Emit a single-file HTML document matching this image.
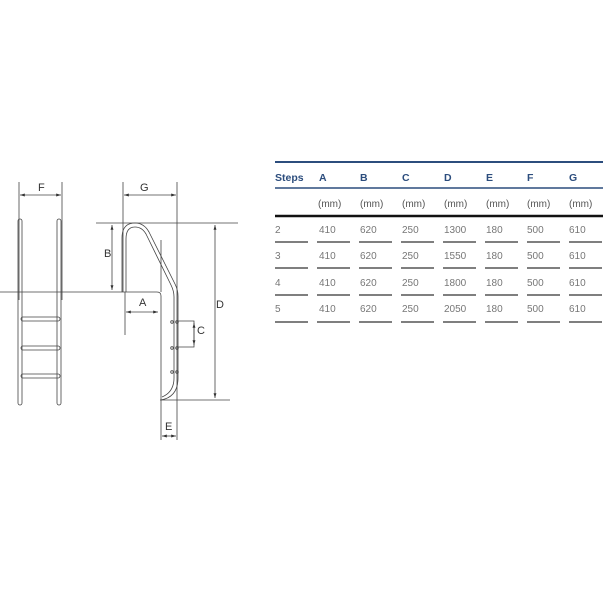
<!DOCTYPE html>
<html><head><style>
html,body{margin:0;padding:0;background:#fff;width:603px;height:603px;overflow:hidden}
svg{display:block}
.t{font-family:"Liberation Sans",sans-serif}
</style></head><body>
<svg width="603" height="603" viewBox="0 0 603 603" xmlns="http://www.w3.org/2000/svg">
<defs>
<marker id="ar" viewBox="0 0 10 10" refX="10" refY="5" markerWidth="6" markerHeight="6" orient="auto-start-reverse"><path d="M0,2 L10,5 L0,8 z" fill="#333"/></marker>
</defs>
<g stroke="#444" stroke-width="0.8" fill="none">
<!-- F -->
<line x1="19" y1="182" x2="19" y2="300"/><line x1="62" y1="182" x2="62" y2="300"/>
<line x1="20" y1="195" x2="61" y2="195" marker-start="url(#ar)" marker-end="url(#ar)"/>
<!-- left ladder rails -->
<rect x="18" y="219" width="4" height="186" rx="2"/>
<rect x="57" y="219" width="4" height="186" rx="2"/>
<rect x="21" y="317" width="39" height="4" rx="2"/>
<rect x="21" y="346" width="39" height="4" rx="2"/>
<rect x="21" y="374" width="39" height="4" rx="2"/>
<!-- pool edge -->
<path d="M0,292 H157 Q161,292 161,296 V400"/>
<line x1="161" y1="240" x2="161" y2="292"/>
<line x1="161" y1="400" x2="161" y2="440"/>
<!-- G -->
<line x1="123" y1="182" x2="123" y2="292"/><line x1="177" y1="182" x2="177" y2="440"/>
<line x1="124" y1="195" x2="176" y2="195" marker-start="url(#ar)" marker-end="url(#ar)"/>
<line x1="96" y1="223" x2="238" y2="223"/>
<!-- handrail -->
<path d="M122,292 V238 Q122,223 135,223 Q144,223 149,232 L175,284 Q178,290 178,296 V378 Q178,397 161,400"/>
<path d="M126,292 V239 Q126,227 135,227 Q142,227 146,234 L171,285 Q174,291 174,297 V378 Q174,392 162,397"/>
<!-- B -->
<line x1="112" y1="225" x2="112" y2="290" marker-start="url(#ar)" marker-end="url(#ar)"/>
<!-- A -->
<line x1="125" y1="292" x2="125" y2="335"/>
<line x1="126" y1="312" x2="158" y2="312" marker-start="url(#ar)" marker-end="url(#ar)"/>
<!-- bolts -->
<circle cx="172" cy="322" r="1.3"/><circle cx="177" cy="322" r="1.3"/>
<circle cx="172" cy="348" r="1.3"/><circle cx="177" cy="348" r="1.3"/>
<circle cx="172" cy="372" r="1.3"/><circle cx="177" cy="372" r="1.3"/>
<!-- C -->
<path d="M178,321 H194 V347 H178"/>
<line x1="194" y1="323" x2="194" y2="345" marker-start="url(#ar)" marker-end="url(#ar)"/>
<!-- D -->
<line x1="160" y1="400" x2="230" y2="400"/>
<line x1="215" y1="225" x2="215" y2="398" marker-start="url(#ar)" marker-end="url(#ar)"/>
<!-- E -->
<line x1="162" y1="436" x2="176" y2="436" marker-start="url(#ar)" marker-end="url(#ar)"/>
</g>
<g class="t" font-size="11" fill="#333">
<text x="38" y="191">F</text><text x="140" y="191">G</text>
<text x="104" y="257">B</text><text x="139" y="306">A</text>
<text x="197" y="334">C</text><text x="216" y="308">D</text>
<text x="165" y="430">E</text>
</g>
<!-- table -->
<g stroke-width="2" stroke="#2c4d7d"><line x1="275" y1="162" x2="603" y2="162"/><line x1="275" y1="188" x2="603" y2="188" stroke-width="1.5"/></g>
<line x1="275" y1="216" x2="603" y2="216" stroke="#111" stroke-width="2.5"/>
<g class="t" font-size="10.5" font-weight="bold" fill="#2c4d7d">
<text x="275" y="181">Steps</text><text x="319" y="181">A</text><text x="360" y="181">B</text><text x="402" y="181">C</text><text x="444" y="181">D</text><text x="486" y="181">E</text><text x="527" y="181">F</text><text x="569" y="181">G</text>
</g>
<g class="t" font-size="10" fill="#555">
<text x="318" y="207">(mm)</text><text x="360" y="207">(mm)</text><text x="402" y="207">(mm)</text><text x="444" y="207">(mm)</text><text x="486" y="207">(mm)</text><text x="527" y="207">(mm)</text><text x="569" y="207">(mm)</text>
</g>
<g class="t" font-size="10" fill="#777">
<text x="275" y="233">2</text><text x="319" y="233">410</text><text x="360" y="233">620</text><text x="402" y="233">250</text><text x="444" y="233">1300</text><text x="486" y="233">180</text><text x="527" y="233">500</text><text x="569" y="233">610</text>
<text x="275" y="259">3</text><text x="319" y="259">410</text><text x="360" y="259">620</text><text x="402" y="259">250</text><text x="444" y="259">1550</text><text x="486" y="259">180</text><text x="527" y="259">500</text><text x="569" y="259">610</text>
<text x="275" y="286">4</text><text x="319" y="286">410</text><text x="360" y="286">620</text><text x="402" y="286">250</text><text x="444" y="286">1800</text><text x="486" y="286">180</text><text x="527" y="286">500</text><text x="569" y="286">610</text>
<text x="275" y="312">5</text><text x="319" y="312">410</text><text x="360" y="312">620</text><text x="402" y="312">250</text><text x="444" y="312">2050</text><text x="486" y="312">180</text><text x="527" y="312">500</text><text x="569" y="312">610</text>
</g>
<g stroke="#333" stroke-width="1.2" stroke-dasharray="33 9">
<line x1="275" y1="242" x2="603" y2="242"/>
<line x1="275" y1="268" x2="603" y2="268"/>
<line x1="275" y1="295" x2="603" y2="295"/>
<line x1="275" y1="322" x2="603" y2="322"/>
</g>
</svg>
</body></html>
